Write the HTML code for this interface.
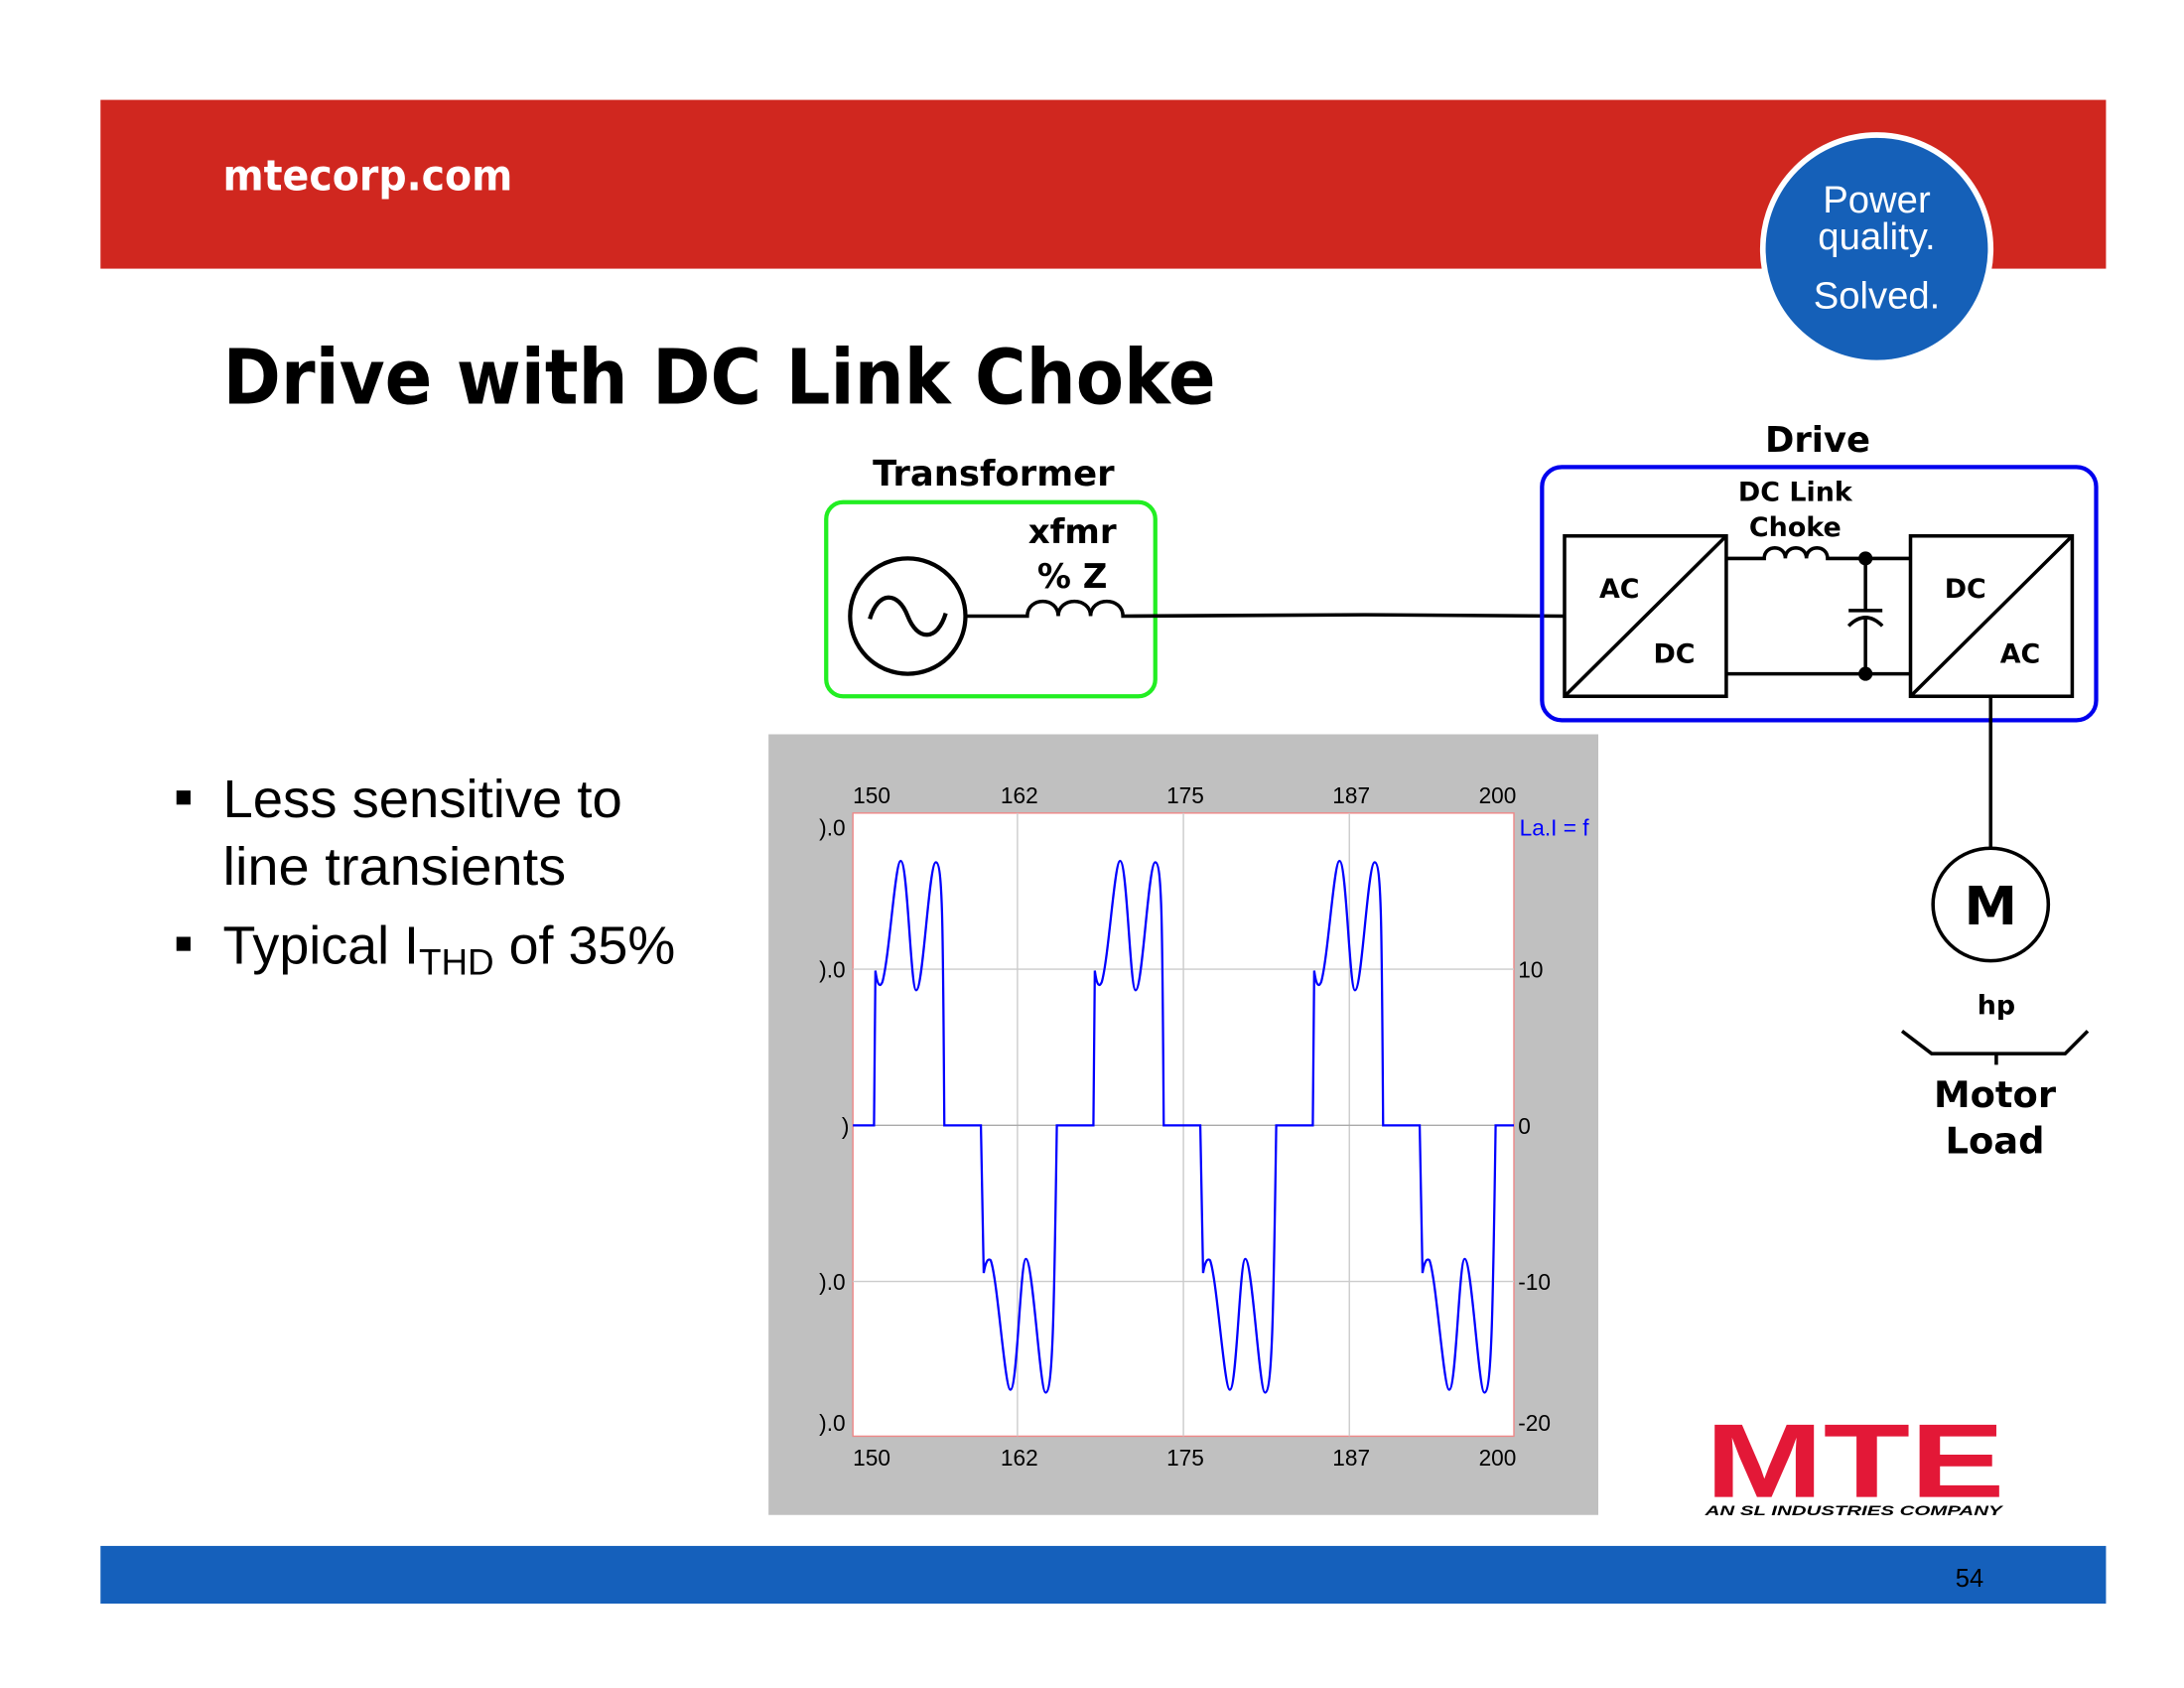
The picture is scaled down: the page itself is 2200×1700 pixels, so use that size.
<!DOCTYPE html>
<html><head><meta charset="utf-8"><style>html,body{margin:0;padding:0;background:#fff}svg{display:block}</style></head>
<body>
<svg width="2200" height="1700" viewBox="0 0 1552 1200" xmlns="http://www.w3.org/2000/svg" font-family="'DejaVu Sans', 'Liberation Sans', sans-serif">
<rect width="1552" height="1200" fill="#fff"/>
<rect x="71" y="71" width="1426" height="120" fill="#d0271f"/>
<text x="158" y="135" font-size="30" font-weight="bold" fill="#fff" textLength="206" lengthAdjust="spacingAndGlyphs">mtecorp.com</text>
<circle cx="1334" cy="177" r="81" fill="#1560b8" stroke="#fff" stroke-width="4"/>
<g fill="#fff" font-size="27" text-anchor="middle" font-family="'Liberation Sans', sans-serif">
<text x="1334" y="151">Power</text><text x="1334" y="177">quality.</text><text x="1334" y="219">Solved.</text></g>
<text x="158" y="287" font-size="54" font-weight="bold" fill="#000" textLength="706" lengthAdjust="spacingAndGlyphs">Drive with DC Link Choke</text>

<g font-family="'Liberation Sans', sans-serif" font-size="38" fill="#000">
<rect x="125" y="562" width="10" height="10"/><text x="158" y="581" textLength="284" lengthAdjust="spacingAndGlyphs">Less sensitive to</text>
<text x="158" y="629" textLength="244" lengthAdjust="spacingAndGlyphs">line transients</text>
<rect x="125" y="666" width="10" height="10"/><text x="158" y="685">Typical I<tspan font-size="26" dy="8">THD</tspan><tspan dy="-8"> of 35%</tspan></text>
</g>

<!-- transformer -->
<text x="706" y="345" font-size="25" font-weight="bold" text-anchor="middle">Transformer</text>
<rect x="587" y="357" width="234" height="138" rx="12" fill="none" stroke="#22ee22" stroke-width="3"/>
<circle cx="645" cy="438" r="41" fill="none" stroke="#000" stroke-width="3"/>
<path d="M618,440 C624,420 638,420 645,438 C652,456 666,456 672,436" fill="none" stroke="#000" stroke-width="3"/>
<g font-size="24" font-weight="bold" text-anchor="middle"><text x="762" y="386">xfmr</text><text x="762" y="418">% Z</text></g>
<path d="M686,438 L730,438 C730,424 752,424 752,438 C752,424 775,424 775,438 C775,424 798,424 798,438 L970,437 L1112,438" fill="none" stroke="#000" stroke-width="2.5"/>

<!-- drive -->
<text x="1292" y="321" font-size="25" font-weight="bold" text-anchor="middle">Drive</text>
<rect x="1096" y="332" width="394" height="180" rx="14" fill="none" stroke="#0000ee" stroke-width="3"/>
<g font-size="19" font-weight="bold" text-anchor="middle"><text x="1276" y="356">DC Link</text><text x="1276" y="381">Choke</text></g>
<g fill="none" stroke="#000" stroke-width="2.5">
<rect x="1112" y="381" width="115" height="114"/><path d="M1112,495 L1227,381"/>
<rect x="1358" y="381" width="115" height="114"/><path d="M1358,495 L1473,381"/>
<path d="M1227,397 L1254,397 C1254,387 1269,387 1269,397 C1269,387 1284,387 1284,397 C1284,387 1299,387 1299,397 L1358,397"/>
<path d="M1227,479 L1358,479"/>
<path d="M1326,397 L1326,434 M1314,434 L1338,434 M1314,445 Q1326,433 1338,445 M1326,440 L1326,479"/>
<path d="M1415,495 L1415,602"/>
<ellipse cx="1415" cy="643" rx="41" ry="40"/>
<path d="M1352,733 L1373,749 L1468,749 L1484,733 M1419,749 L1419,757"/>
</g>
<circle cx="1326" cy="397" r="5"/><circle cx="1326" cy="479" r="5"/>
<g font-size="19" font-weight="bold" text-anchor="middle"><text x="1151" y="425">AC</text><text x="1190" y="471">DC</text><text x="1397" y="425">DC</text><text x="1436" y="471">AC</text><text x="1419" y="721">hp</text></g>
<text x="1415" y="657" font-size="38" font-weight="bold" text-anchor="middle">M</text>
<g font-size="26" font-weight="bold" text-anchor="middle"><text x="1418" y="787">Motor</text><text x="1418" y="820">Load</text></g>

<!-- chart -->
<rect x="546" y="522" width="590" height="555" fill="#c0c0c0"/>
<rect x="606" y="578" width="470" height="443" fill="#fff" stroke="#e88" stroke-width="1"/>
<g stroke="#ccc" stroke-width="1"><path d="M723,578V1021M841,578V1021M959,578V1021M606,689H1076M606,911H1076"/><path d="M606,800H1076" stroke="#aaa"/></g>
<g font-family="'Liberation Sans', sans-serif" font-size="16" fill="#000">
<text x="606" y="571">150</text><text x="711" y="571">162</text><text x="829" y="571">175</text><text x="947" y="571">187</text><text x="1051" y="571">200</text>
<text x="606" y="1042">150</text><text x="711" y="1042">162</text><text x="829" y="1042">175</text><text x="947" y="1042">187</text><text x="1051" y="1042">200</text>
<text x="1079" y="695">10</text><text x="1079" y="806">0</text><text x="1079" y="917">-10</text><text x="1079" y="1017">-20</text>
<text x="582" y="594">).0</text><text x="582" y="695">).0</text><text x="598" y="806">)</text><text x="582" y="917">).0</text><text x="582" y="1017">).0</text>
<text x="1080" y="594" fill="#00f">La.I = f</text>
</g>
<rect x="1136" y="522" width="20" height="100" fill="#fff"/>
<defs><clipPath id="c"><rect x="606" y="578" width="470" height="443"/></clipPath></defs>
<g clip-path="url(#c)" fill="none" stroke="#0000ff" stroke-width="1.6">
<path id="w" d="M465,800 L465,800 M465,800 L466,690 Q468,705 471,698 C476,680 480,612 484,612 C489,612 491,704 495,704 C500,704 504,613 509,613 C514,613 514,660 515,800 L541,800 L543,905 Q545,893 548,896 C553,910 558,988 562,988 C567,988 569,895 573,895 C578,895 583,990 587,990 C592,990 593,940 595,800 L621,800 L622,690 Q624,705 627,698 C632,680 636,612 640,612 C645,612 647,704 651,704 C656,704 660,613 665,613 C670,613 670,660 671,800 L697,800 L699,905 Q701,893 704,896 C709,910 714,988 718,988 C723,988 725,895 729,895 C734,895 739,990 743,990 C748,990 749,940 751,800 L777,800 L778,690 Q780,705 783,698 C788,680 792,612 796,612 C801,612 803,704 807,704 C812,704 816,613 821,613 C826,613 826,660 827,800 L853,800 L855,905 Q857,893 860,896 C865,910 870,988 874,988 C879,988 881,895 885,895 C890,895 895,990 899,990 C904,990 905,940 907,800 L933,800 L934,690 Q936,705 939,698 C944,680 948,612 952,612 C957,612 959,704 963,704 C968,704 972,613 977,613 C982,613 982,660 983,800 L1009,800 L1011,905 Q1013,893 1016,896 C1021,910 1026,988 1030,988 C1035,988 1037,895 1041,895 C1046,895 1051,990 1055,990 C1060,990 1061,940 1063,800 L1080,800"/>
</g>

<!-- MTE logo -->
<text x="1212" y="1064" font-family="'Liberation Sans', sans-serif" font-weight="bold" font-size="70" fill="#e31837" textLength="213" lengthAdjust="spacingAndGlyphs" transform="translate(0,-70) scale(1,1.066)">MTE</text>
<text x="1212" y="1077" font-family="'Liberation Sans', sans-serif" font-weight="bold" font-style="italic" font-size="9.5" fill="#000" textLength="211" lengthAdjust="spacingAndGlyphs">AN SL INDUSTRIES COMPANY</text>

<rect x="71" y="1099" width="1426" height="41" fill="#1560bb"/>
<text x="1400" y="1128" font-family="'Liberation Sans', sans-serif" font-size="18" text-anchor="middle" fill="#000">54</text>
</svg>
</body></html>
